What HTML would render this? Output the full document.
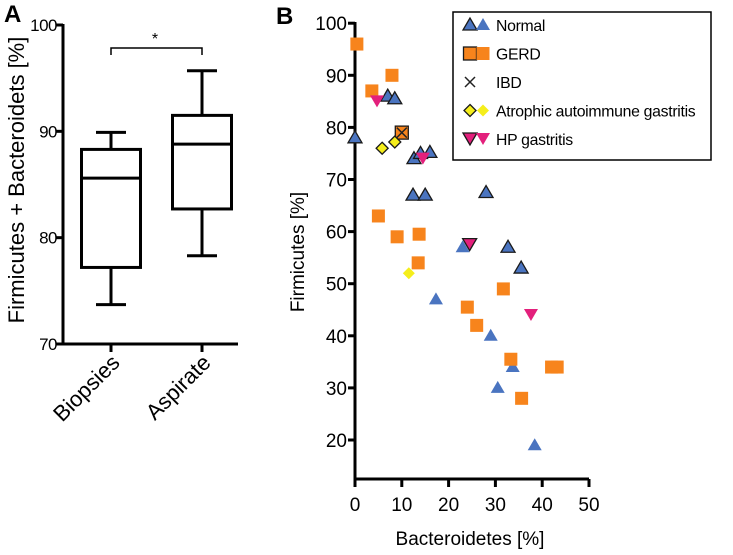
<!DOCTYPE html>
<html><head><meta charset="utf-8"><style>
body{margin:0;background:#fff}
svg{font-family:"Liberation Sans",Arial,sans-serif}
</style></head><body>
<svg width="733" height="550" viewBox="0 0 733 550">
<text x="4" y="22" font-size="24" font-weight="bold">A</text>
<text x="276" y="24" font-size="24" font-weight="bold">B</text>
<g id="pa"></g>
<g id="pb"></g>
</svg>
<script>
const NS="http://www.w3.org/2000/svg";
function mk(p,t,a,txt){const e=document.createElementNS(NS,t);for(const k in a)e.setAttribute(k,a[k]);if(txt!==undefined)e.textContent=txt;p.appendChild(e);return e;}
// ---- Panel A data
const boxCategories=["Biopsies","Aspirate"];
const boxMin=[73.7,78.3];
const boxQ1=[77.2,82.7];
const boxMedian=[85.6,88.8];
const boxQ3=[88.3,91.5];
const boxMax=[89.9,95.7];
const aTicks=[70,80,90,100];
// ---- Panel B data
const normalX=[0,7,8.5,12.6,14,16,12.4,15,28,23,32.7,35.5,17.3,29,30.5,33.7,38.4];
const normalY=[78,86,85.5,74,75,75.2,67,67,67.5,57,57,53,47,40,30,34,19];
const normalOutlined=[1,1,1,1,1,1,1,1,1,0,1,1,0,0,0,0,0];
const gerdX=[0.4,3.6,7.9,10,5,9,13.7,13.5,24,26,31.7,33.3,35.6,42,43.2];
const gerdY=[96,87,90,79,63,59,59.5,54,45.5,42,49,35.5,28,34,34];
const gerdOutlined=[0,0,0,1,0,0,0,0,0,0,0,0,0,0,0];
const ibdX=[10];
const ibdY=[79];
const atrophicX=[5.8,8.5,11.5];
const atrophicY=[76,77.2,52];
const atrophicOutlined=[1,1,0];
const hpX=[4.7,14.5,24.5,37.6];
const hpY=[85,74,57.5,44];
const hpOutlined=[0,0,1,0];
const bXTicks=[0,10,20,30,40,50];
const bYTicks=[20,30,40,50,60,70,80,90,100];

// Panel A
const pa=document.getElementById('pa');
const ay=v=>344-(v-70)*(344-25)/30;
const ax=i=>[111,202][i];
mk(pa,'line',{x1:63,y1:24,x2:63,y2:345,stroke:'#000','stroke-width':3});
mk(pa,'line',{x1:61.5,y1:344,x2:238,y2:344,stroke:'#000','stroke-width':3});
aTicks.forEach(t=>{
 mk(pa,'line',{x1:56,y1:ay(t),x2:63,y2:ay(t),stroke:'#000','stroke-width':3});
 const tl=mk(pa,'text',{x:57,y:ay(t)+6,'font-size':17,'text-anchor':'end','letter-spacing':'-0.5'},t);
 
 
});
const ayl=mk(pa,'text',{x:0,y:0,'font-size':22,'text-anchor':'middle',transform:'translate(24,180) rotate(-90)'},'Firmicutes + Bacteroidets [%]');


boxCategories.forEach((c,i)=>{
 const g=mk(pa,'g',{});
 
 
 const x=ax(i),hw=29.5,cw=15,st={stroke:'#000','stroke-width':3,fill:'none'};
 mk(g,'line',Object.assign({x1:x,y1:ay(boxMax[i]),x2:x,y2:ay(boxQ3[i])},st));
 mk(g,'line',Object.assign({x1:x-cw,y1:ay(boxMax[i]),x2:x+cw,y2:ay(boxMax[i])},st));
 mk(g,'line',Object.assign({x1:x,y1:ay(boxMin[i]),x2:x,y2:ay(boxQ1[i])},st));
 mk(g,'line',Object.assign({x1:x-cw,y1:ay(boxMin[i]),x2:x+cw,y2:ay(boxMin[i])},st));
 mk(g,'rect',Object.assign({x:x-hw,y:ay(boxQ3[i]),width:hw*2,height:ay(boxQ1[i])-ay(boxQ3[i])},st));
 mk(g,'line',Object.assign({x1:x-hw,y1:ay(boxMedian[i]),x2:x+hw,y2:ay(boxMedian[i])},st));
 mk(pa,'line',{x1:x,y1:344,x2:x,y2:352,stroke:'#000','stroke-width':3});
 const l=mk(pa,'text',{x:0,y:0,'font-size':22,'text-anchor':'end',transform:`translate(${x+10},${364}) rotate(-45)`},c);
 
 
});
mk(pa,'path',{d:'M111,55 V48 H202 V55',stroke:'#000','stroke-width':1.5,fill:'none'});
mk(pa,'text',{x:155,y:44,'font-size':16,'text-anchor':'middle'},'*');

// Panel B
const pb=document.getElementById('pb');
const bx=v=>355+v*4.68;
const by=v=>440-(v-20)*5.21;
mk(pb,'line',{x1:355,y1:22,x2:355,y2:480.5,stroke:'#000','stroke-width':3});
mk(pb,'line',{x1:353.5,y1:479,x2:589,y2:479,stroke:'#000','stroke-width':3});
bYTicks.forEach(t=>{
 mk(pb,'line',{x1:348,y1:by(t),x2:355,y2:by(t),stroke:'#000','stroke-width':3});
 const tl=mk(pb,'text',{x:347,y:by(t)+7,'font-size':19,'text-anchor':'end'},t);
 
 
});
bXTicks.forEach(t=>{
 mk(pb,'line',{x1:bx(t),y1:479,x2:bx(t),y2:487,stroke:'#000','stroke-width':3});
 const tl=mk(pb,'text',{x:bx(t),y:511,'font-size':19,'text-anchor':'middle'},t);
 
 
});
const bxl=mk(pb,'text',{x:470,y:545,'font-size':19,'text-anchor':'middle'},'Bacteroidetes [%]');


const byl=mk(pb,'text',{x:0,y:0,'font-size':19,'text-anchor':'middle',transform:'translate(304,252) rotate(-90)'},'Firmicutes [%]');



function marker(p,type,x,y,outl){
 const s=outl?{stroke:'#1a1a1a','stroke-width':1.3}:{stroke:'none'};
 let e;
 if(type==='tri') e=mk(p,'polygon',Object.assign({points:`${x},${y-7} ${x-7},${y+5} ${x+7},${y+5}`,fill:'#4a74c0'},s));
 else if(type==='sq') e=mk(p,'rect',Object.assign({x:x-6.5,y:y-6.5,width:13,height:13,fill:'#f7841c'},s));
 else if(type==='dia') e=mk(p,'polygon',Object.assign({points:`${x},${y-6} ${x+6},${y} ${x},${y+6} ${x-6},${y}`,fill:'#f5ee1b'},s));
 else if(type==='inv') e=mk(p,'polygon',Object.assign({points:`${x},${y+6} ${x-7},${y-6} ${x+7},${y-6}`,fill:'#e3207c'},s));
 else { e=mk(p,'path',{d:`M${x-5},${y-5}L${x+5},${y+5}M${x+5},${y-5}L${x-5},${y+5}`,stroke:'#222','stroke-width':1.5}); }
 return e;
}
const series=[['normal','tri',normalX,normalY,normalOutlined],['gerd','sq',gerdX,gerdY,gerdOutlined],['ibd','x',ibdX,ibdY,[1]],['atrophic','dia',atrophicX,atrophicY,atrophicOutlined],['hp','inv',hpX,hpY,hpOutlined]];
series.forEach(([nm,t,X,Y,O])=>{
 X.forEach((v,i)=>{
  const m=marker(pb,t,bx(v),by(Y[i]),O[i]);
  
  
 });
});
// Legend
const lg=mk(pb,'g',{});


mk(lg,'rect',{x:453,y:12,width:258,height:148,fill:'#fff',stroke:'#000','stroke-width':1.5});
const legNames=['Normal','GERD','IBD','Atrophic autoimmune gastritis','HP gastritis'];
const legTypes=['tri','sq','x','dia','inv'];
legNames.forEach((n,i)=>{
 const y=25+i*28.5;
 const g=mk(lg,'g',{});
 
 
 if(legTypes[i]==='x') marker(g,'x',470,y,1);
 else {marker(g,legTypes[i],470,y,1);marker(g,legTypes[i],483,y,0);}
 mk(g,'text',{x:496,y:y+6,'font-size':15.8,'letter-spacing':'-0.3'},n);
});
</script>
</body></html>
